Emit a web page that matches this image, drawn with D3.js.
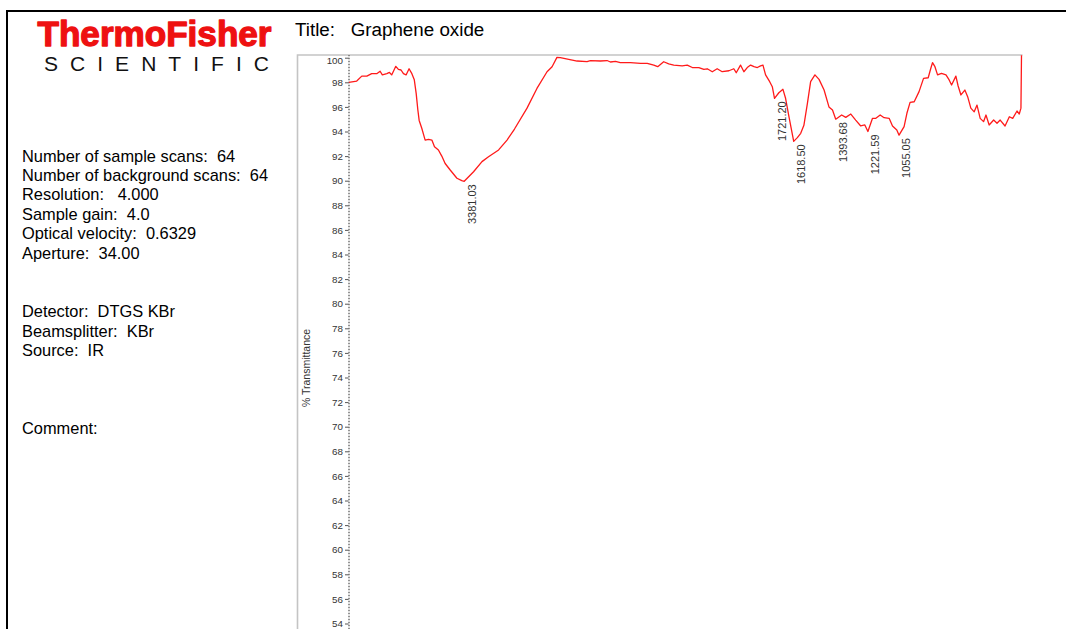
<!DOCTYPE html>
<html><head><meta charset="utf-8">
<script src="https://cdn.jsdelivr.net/npm/d3@7/dist/d3.min.js"></script>
<style>
html,body{margin:0;padding:0;background:#fff;overflow:hidden}
svg{display:block}
text{font-family:Arial,"Liberation Sans",sans-serif;white-space:pre}
</style></head><body>
<svg id="c" width="1066" height="629"></svg>
<script>
// FT-IR spectrum of graphene oxide (wavenumber in cm-1, % transmittance)
const wavenumber = [
  3998, 3956, 3929, 3902, 3876, 3849, 3831, 3819, 3795, 3781, 3769, 3747, 3733, 3719, 3706, 3692,
  3676, 3661, 3648, 3638, 3629, 3622, 3608, 3590, 3572, 3554, 3540, 3519, 3501, 3483, 3456, 3420,
  3394, 3381.03, 3331, 3286, 3251, 3197, 3152, 3112, 3045, 2992, 2938, 2911, 2885, 2867, 2822, 2777,
  2724, 2706, 2653, 2617, 2599, 2572, 2546, 2492, 2438, 2402, 2367, 2346, 2314, 2287, 2260, 2215,
  2188, 2161, 2126, 2099, 2081, 2054, 2028, 2001, 1965, 1939, 1926, 1903, 1885, 1867, 1849, 1831,
  1813, 1796, 1783, 1769, 1747, 1733, 1721.20, 1698, 1676, 1662, 1644, 1618.50, 1599, 1581, 1564, 1545,
  1528, 1505, 1483, 1456, 1430, 1411, 1393.68, 1362, 1340, 1313, 1287, 1260, 1238, 1221.59, 1197, 1179,
  1156, 1135, 1108, 1090, 1067, 1055.05, 1028, 1013, 996, 974, 948, 924, 899, 885, 876, 863,
  849, 828, 804, 787, 774, 751, 739, 724, 703, 688, 671, 653, 638, 621, 603, 590,
  573, 549, 531, 514, 488, 465, 447, 424, 412, 403, 400
];
const transmittance = [
  98.0, 98.1, 98.5, 98.5, 98.7, 98.7, 98.9, 98.6, 98.7, 98.8, 98.6, 99.3, 99.05, 99.0, 98.7, 98.6,
  99.1, 98.7, 98.2, 97.1, 95.75, 94.9, 94.26, 93.3, 93.36, 93.3, 92.76, 92.5, 92.0, 91.4, 90.87, 90.2,
  90.0, 89.95, 90.73, 91.55, 91.95, 92.5, 93.3, 94.2, 95.9, 97.5, 98.86, 99.27, 100.03, 100.0, 99.87, 99.73,
  99.68, 99.76, 99.73, 99.77, 99.65, 99.7, 99.6, 99.6, 99.54, 99.54, 99.4, 99.27, 99.67, 99.5, 99.4, 99.33,
  99.4, 99.2, 99.2, 99.05, 99.1, 98.86, 99.1, 98.86, 98.94, 99.1, 98.78, 99.4, 98.86, 99.2, 99.4, 99.27,
  99.2, 99.33, 99.4, 98.6, 98.05, 97.64, 96.7, 97.15, 97.43, 96.7, 95.2, 93.2, 93.5, 93.85, 94.5, 96.3,
  98.05, 98.6, 98.24, 97.37, 96.0, 95.75, 95.0, 95.34, 95.15, 95.42, 94.93, 94.45, 94.53, 94.0, 95.07, 95.07,
  95.34, 95.12, 95.07, 94.45, 94.12, 93.7, 94.4, 95.48, 96.37, 96.42, 97.24, 98.32, 98.37, 99.14, 99.6, 99.27,
  98.6, 98.73, 98.6, 98.19, 97.78, 98.5, 97.7, 96.97, 97.37, 96.83, 95.9, 95.6, 96.15, 95.07, 94.8, 95.34,
  94.53, 94.93, 94.67, 94.93, 94.45, 95.2, 95.07, 95.67, 95.42, 95.9, 100.2
];
const peakWavenumbers = [3381.03, 1721.20, 1618.50, 1393.68, 1221.59, 1055.05];
const peakLabels = ["3381.03", "1721.20", "1618.50", "1393.68", "1221.59", "1055.05"];
const yTicks = [100, 98, 96, 94, 92, 90, 88, 86, 84, 82, 80, 78, 76, 74, 72, 70, 68, 66, 64, 62, 60, 58, 56, 54];
const titleText = "Title:   Graphene oxide";
const yLabel = "% Transmittance";
const infoLines = [
  "Number of sample scans:  64",
  "Number of background scans:  64",
  "Resolution:   4.000",
  "Sample gain:  4.0",
  "Optical velocity:  0.6329",
  "Aperture:  34.00",
  "",
  "",
  "Detector:  DTGS KBr",
  "Beamsplitter:  KBr",
  "Source:  IR",
  "",
  "",
  "",
  "Comment:"
];

const svg = d3.select("#c");

// page border
svg.append("line").attr("x1", 6).attr("x2", 1066).attr("y1", 11).attr("y2", 11)
  .attr("stroke", "#000").attr("stroke-width", 2);
svg.append("line").attr("x1", 7).attr("x2", 7).attr("y1", 10).attr("y2", 629)
  .attr("stroke", "#000").attr("stroke-width", 2);

// logo
svg.append("text").attr("x", 37.5).attr("y", 46).text("ThermoFisher")
  .attr("font-size", 35).attr("font-weight", "bold").attr("fill", "#ee1111")
  .attr("stroke", "#ee1111").attr("stroke-width", 1.3).attr("stroke-linejoin", "round")
  .attr("textLength", 234).attr("lengthAdjust", "spacingAndGlyphs");
svg.append("text").attr("x", 44).attr("y", 70.5).text("SCIENTIFIC")
  .attr("font-size", 21).attr("fill", "#111")
  .attr("textLength", 225).attr("lengthAdjust", "spacing");

// acquisition info
svg.append("g").selectAll("text").data(infoLines).join("text")
  .attr("x", 22).attr("y", (d, i) => 161.5 + i * 19.45)
  .attr("font-size", 16.4).attr("fill", "#000").text(d => d);

// title
svg.append("text").attr("x", 295).attr("y", 35.5).attr("font-size", 18.8)
  .attr("fill", "#000").text(titleText);

// scales
const x = d3.scaleLinear().domain([4000, 400]).range([348.5, 1021.5]);
const y = d3.scaleLinear().domain([100, 40]).range([57.7, 57.7 + 60 * 12.3]);

// plot frame (top and left edges)
svg.append("path").attr("d", "M297.5,629 V55 H1022.5")
  .attr("fill", "none").attr("stroke", "#c4c4c4").attr("stroke-width", 1.6);

// y axis
const yAxis = svg.append("g").attr("transform", "translate(349,0)")
  .call(d3.axisLeft(y).tickValues(yTicks).tickSize(4).tickPadding(2).tickFormat(d3.format("d")));
yAxis.select(".domain").remove();
yAxis.selectAll(".tick line").attr("stroke", "#555");
yAxis.selectAll(".tick text").attr("font-size", 9.8).attr("fill", "#333")
  .attr("font-family", "Arial, 'Liberation Sans', sans-serif")
  .attr("dy", d => d === 100 ? "0.62em" : "0.32em");
svg.append("line").attr("x1", 349).attr("x2", 349).attr("y1", 55).attr("y2", 629)
  .attr("stroke", "#c8c8c8").attr("stroke-width", 1);
svg.append("line").attr("x1", 349).attr("x2", 349).attr("y1", 55).attr("y2", 629)
  .attr("stroke", "#444").attr("stroke-width", 1).attr("stroke-dasharray", "1,2");

svg.append("text")
  .attr("transform", "translate(306.5,368) rotate(-90)")
  .attr("text-anchor", "middle").attr("dy", "0.35em")
  .attr("font-size", 10.5).attr("fill", "#333").text(yLabel);

// spectrum
const pts = wavenumber.map((w, i) => [w, transmittance[i]]);
svg.append("path").datum(pts)
  .attr("fill", "none").attr("stroke", "#ff1a1a").attr("stroke-width", 1.3)
  .attr("stroke-linejoin", "round")
  .attr("d", d3.line().x(d => x(d[0])).y(d => y(d[1])));

// peak annotations
const peaks = peakWavenumbers.map((w, i) => ({ w, t: transmittance[wavenumber.indexOf(w)], label: peakLabels[i] }));
svg.append("g").selectAll("text").data(peaks).join("text")
  .attr("transform", d => `translate(${x(d.w) + 7.5},${y(d.t) + 3}) rotate(-90)`)
  .attr("text-anchor", "end").attr("dy", "0.35em")
  .attr("font-size", 11).attr("fill", "#333").text(d => d.label);
</script>
</body></html>
